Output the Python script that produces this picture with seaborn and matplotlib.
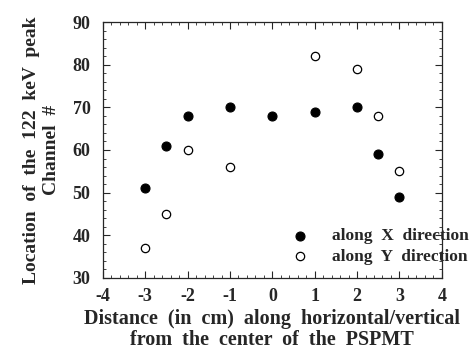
import pandas as pd
import matplotlib.pyplot as plt
import seaborn as sns
from matplotlib.ticker import MultipleLocator

# --- Data ---
x_dir_pos = [-3, -2.5, -2, -1, 0, 1, 2, 2.5, 3]
x_dir_channel = [51, 61, 68, 70, 68, 69, 70, 59, 49]

y_dir_pos = [-3, -2.5, -2, -1, 1, 2, 2.5, 3]
y_dir_channel = [37, 45, 60, 56, 82, 79, 68, 55]

x_ticks = [-4, -3, -2, -1, 0, 1, 2, 3, 4]
y_ticks = [30, 40, 50, 60, 70, 80, 90]

df_x = pd.DataFrame({"pos": x_dir_pos, "channel": x_dir_channel})
df_y = pd.DataFrame({"pos": y_dir_pos, "channel": y_dir_channel})

sns.set_style("ticks")
plt.rcParams['font.family'] = ['Liberation Serif', 'DejaVu Serif']
plt.rcParams['font.weight'] = 'bold'

fig = plt.figure(figsize=(4.72, 3.5), dpi=100)
ax = fig.add_axes([0.218, 0.206, 0.718, 0.731])

sns.scatterplot(data=df_x, x="pos", y="channel", ax=ax, s=42, color="black",
                edgecolor="black", linewidth=0.8, label="along  X  direction", zorder=3)
sns.scatterplot(data=df_y, x="pos", y="channel", ax=ax, s=36, facecolor="white",
                edgecolor="black", linewidth=0.9, label="along  Y  direction", zorder=3)

ax.set_xlim(-4, 4)
ax.set_ylim(30, 90)
ax.set_xticks(x_ticks)
ax.set_yticks(y_ticks)
ax.set_xticklabels([str(v) for v in x_ticks])
ax.set_yticklabels([str(v) for v in y_ticks])
ax.xaxis.set_minor_locator(MultipleLocator(0.2))
ax.yaxis.set_minor_locator(MultipleLocator(2))
ax.tick_params(which="both", direction="in", top=True, right=True, labelsize=13)
ax.tick_params(which="major", length=5, width=0.8)
ax.tick_params(which="minor", length=2.5, width=0.6)
ax.tick_params(axis="y", which="major", pad=9)
ax.tick_params(axis="x", which="major", pad=7)
for lbl in ax.get_xticklabels() + ax.get_yticklabels():
    lbl.set_fontweight("bold")
for sp in ax.spines.values():
    sp.set_linewidth(0.9)

ax.set_xlabel("Distance  (in  cm)  along  horizontal/vertical\nfrom  the  center  of  the  PSPMT",
              fontsize=14.5, fontweight="bold", linespacing=1.05, labelpad=3)
ax.set_ylabel("Location  of  the  122  keV  peak\nChannel  #", fontsize=14,
              fontweight="bold", linespacing=1.2, labelpad=9)

ax.legend(loc="center left", bbox_to_anchor=(0.555, 0.123), frameon=False,
          handlelength=1.0, handletextpad=1.34, labelspacing=0.25,
          borderpad=0, borderaxespad=0,
          prop={"weight": "bold", "size": 12.5})

fig.savefig("out.png", dpi=100)
